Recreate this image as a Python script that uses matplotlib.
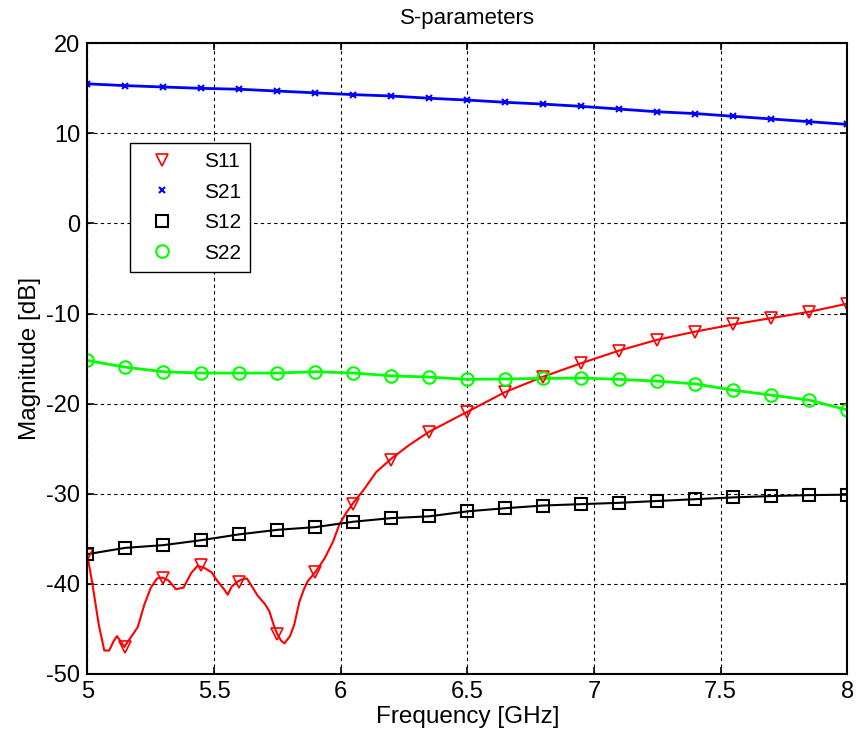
import numpy as np
import matplotlib
matplotlib.use('Agg')
import matplotlib.pyplot as plt

plt.rcParams['font.family'] = ['Liberation Sans', 'DejaVu Sans']
plt.rcParams['axes.unicode_minus'] = False

# marker frequencies (GHz)
f_mk = [5.0, 5.15, 5.3, 5.45, 5.6, 5.75, 5.9, 6.05, 6.2, 6.35, 6.5,
        6.65, 6.8, 6.95, 7.1, 7.25, 7.4, 7.55, 7.7, 7.85, 8.0]

s11_mk = [-36.8, -47.0, -39.3, -37.9, -39.8, -45.6, -38.7, -31.1, -26.2, -23.1, -20.9,
          -18.7, -17.0, -15.5, -14.1, -12.9, -12.0, -11.2, -10.5, -9.8, -8.9]
s21_mk = [15.5, 15.3, 15.15, 15.0, 14.9, 14.7, 14.5, 14.3, 14.15, 13.9, 13.7,
          13.45, 13.25, 13.0, 12.7, 12.4, 12.2, 11.9, 11.6, 11.3, 11.0]
s12_mk = [-36.7, -36.0, -35.7, -35.15, -34.5, -34.0, -33.7, -33.1, -32.7, -32.5, -31.95,
          -31.6, -31.3, -31.15, -31.0, -30.8, -30.6, -30.4, -30.25, -30.15, -30.1]
s22_mk = [-15.2, -15.95, -16.45, -16.6, -16.6, -16.6, -16.45, -16.6, -16.9, -17.05, -17.3,
          -17.25, -17.2, -17.15, -17.3, -17.5, -17.8, -18.5, -19.05, -19.6, -20.7]

# S11 trace with the ripple between markers
f_s11 = [5.0, 5.02, 5.045, 5.067, 5.086, 5.105, 5.117, 5.13, 5.146, 5.17, 5.199, 5.225,
         5.251, 5.275, 5.295, 5.32, 5.35, 5.38, 5.41, 5.435, 5.46, 5.49, 5.514, 5.54,
         5.554, 5.57, 5.59, 5.61, 5.63, 5.65, 5.672, 5.70, 5.718, 5.735, 5.75, 5.765,
         5.778, 5.80, 5.817, 5.837, 5.855, 5.87, 5.9, 5.936, 5.97, 5.995, 6.02, 6.05,
         6.09, 6.14, 6.2, 6.27, 6.35, 6.5, 6.65, 6.8, 6.95, 7.1, 7.25, 7.4, 7.55, 7.7,
         7.85, 8.0]
s11_line = [-36.8, -40.0, -44.5, -47.4, -47.4, -46.3, -45.8, -46.3, -47.0, -46.0, -44.8, -42.3,
            -40.4, -39.4, -39.3, -39.6, -40.6, -40.4, -38.8, -38.0, -38.2, -38.7, -39.7, -40.6,
            -41.2, -40.3, -39.8, -39.5, -39.4, -40.3, -41.3, -42.2, -43.0, -44.5, -45.6, -46.3,
            -46.6, -45.8, -44.5, -42.0, -40.6, -39.7, -38.7, -37.2, -35.3, -33.4, -32.2, -31.0,
            -29.6, -27.6, -26.1, -24.6, -23.1, -20.9, -18.7, -17.0, -15.5, -14.1, -12.9, -12.0,
            -11.2, -10.5, -9.8, -8.9]

fig = plt.figure(figsize=(8.57, 7.40), dpi=100)
ax = fig.add_axes([0.1019, 0.0892, 0.8868, 0.8523])

ax.plot(f_s11, s11_line, color='red', lw=1.5)
ax.plot(f_mk, s21_mk, color='blue', lw=2)
ax.plot(f_mk, s12_mk, color='black', lw=1.5)
ax.plot(f_mk, s22_mk, color='#00ff00', lw=2)

ax.plot(f_mk, s11_mk, 'v', ms=9, mfc='none', mec='red', mew=1.2, label='S11')
ax.plot(f_mk, s21_mk, 'x', ms=4, mec='blue', mew=1.5, label='S21')
ax.plot(f_mk, s12_mk, 's', ms=9, mfc='none', mec='black', mew=1.5, label='S12')
ax.plot(f_mk, s22_mk, 'o', ms=9, mfc='none', mec='#00ff00', mew=1.5, label='S22')

ax.set_xlim(5, 8)
ax.set_ylim(-50, 20)
ax.set_xticks([5, 5.5, 6, 6.5, 7, 7.5, 8])
ax.set_xticklabels(['5', '5.5', '6', '6.5', '7', '7.5', '8'])
ax.set_yticks(range(-50, 21, 10))
ax.grid(True, color='black', linestyle=(0, (3, 3)), lw=0.8)
ax.tick_params(direction='in', top=True, right=True, length=5, width=1.2, labelsize=17, pad=5)
for sp in ax.spines.values():
    sp.set_linewidth(1.5)

ax.set_title('S-parameters', fontsize=16, pad=14)
ax.set_xlabel('Frequency [GHz]', fontsize=17.5, labelpad=2)
ax.set_ylabel('Magnitude [dB]', fontsize=17.5, labelpad=4)

leg = ax.legend(loc='upper left', bbox_to_anchor=(0.056, 0.842), borderaxespad=0,
                fancybox=False, edgecolor='black', framealpha=1, fontsize=15,
                handlelength=2.2, handletextpad=0.9, labelspacing=0.55, borderpad=0.45)
leg.get_frame().set_linewidth(1.0)

plt.savefig('out.png', dpi=100)
